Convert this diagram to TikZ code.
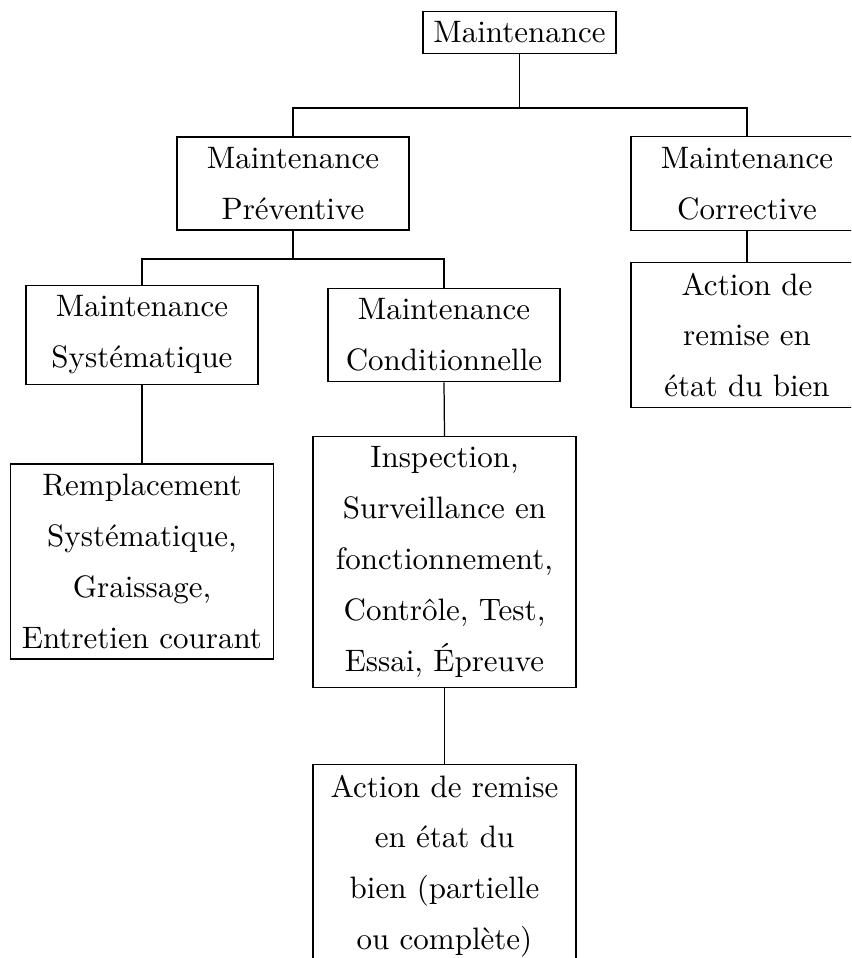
\documentclass[tikz,border=0pt]{standalone}
\begin{document}
\begin{tikzpicture}[x=0.32258pt, y=-0.32258pt,
  box/.style={draw, align=center, inner sep=3.33pt,
    font=\fontsize{10pt}{16.4pt}\selectfont},
  narrowbox/.style={box, minimum width=74.8pt},
  widebox/.style={box, minimum width=84.8pt},
  link/.style={draw, line width=0.4pt}]
\useasboundingbox (0,0) rectangle (851,958);
\clip (0,0) rectangle (851,958);

% level 0
\node[box] (top) at (519.5,32.5) {Maintenance};

% level 1
\node[narrowbox] (prev) at (293,183.5) {Maintenance\\Préventive};
\node[narrowbox] (corr) at (747,183.5) {Maintenance\\Corrective};

% level 2
\node[narrowbox] (syst) at (142,335) {Maintenance\\Systématique};
\node[narrowbox] (cond) at (444,335) {Maintenance\\Conditionnelle};
\node[narrowbox] (corract) at (747,335) {Action de\\remise en\\état du bien};

% level 3
\node[widebox] (rempl) at (142,561.5) {Remplacement\\Systématique,\\Graissage,\\Entretien courant};
\node[widebox] (insp) at (444.5,562) {Inspection,\\Surveillance en\\fonctionnement,\\Contrôle, Test,\\Essai, Épreuve};

% level 4
\node[widebox, anchor=north] (action) at (444.5,764) {Action de remise\\en état du\\bien (partielle\\ou complète)};

% junctions
\coordinate (j1) at (519.5,108);
\coordinate (j2) at (293,259);

% connectors
\path[link] (top.south) -- (j1);
\path[link] (prev.north) |- (j1) -| (corr.north);
\path[link] (prev.south) -- (j2);
\path[link] (syst.north) |- (j2) -| (cond.north);
\path[link] (corr.south) -- (corract.north);
\path[link] (syst.south) -- (rempl.north);
\path[link] (cond.south) -- (insp.north);
\path[link] (insp.south) -- (action.north);
\end{tikzpicture}
\end{document}
